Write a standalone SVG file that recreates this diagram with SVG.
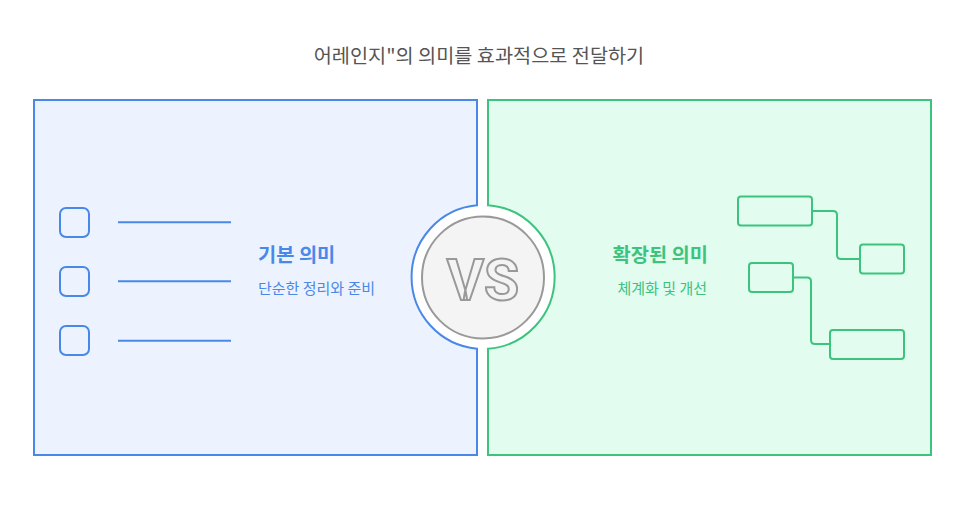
<svg xmlns="http://www.w3.org/2000/svg" width="966" height="512" viewBox="0 0 966 512">
<style>
.title{font-family:"Noto Sans CJK KR","Noto Sans",sans-serif;font-size:19.7px;fill:#555555}
.hb{font-family:"Noto Sans CJK KR",sans-serif;font-size:19.8px;font-weight:bold}
.sb{font-family:"Noto Sans CJK KR",sans-serif;font-size:15px}
.blue{fill:#4a88e8}
.green{fill:#3cc47f}
.bs{fill:none;stroke:#4a88e8;stroke-width:2}
.gs{fill:none;stroke:#3cc47f;stroke-width:2}
</style>
<rect width="966" height="512" fill="#ffffff"/>
<text class="title" x="479" y="63" text-anchor="middle">어레인지"의 의미를 효과적으로 전달하기</text>
<g id="left-panel">
<path d="M34,100 H477 V205.3 A72,72 0 0 0 477,348.7 V455 H34 Z" fill="#ecf3fe" stroke="#4a88e8" stroke-width="2"/>
<text class="hb blue" x="258" y="262">기본 의미</text>
<text class="sb blue" x="258" y="294">단순한 정리와 준비</text>
</g>
<g id="right-panel">
<path d="M488,100 H931 V455 H488 V348.8 A72,72 0 0 0 488,205.2 Z" fill="#e2fcef" stroke="#3cc47f" stroke-width="2"/>
<text class="hb green" x="708" y="262" text-anchor="end">확장된 의미</text>
<text class="sb green" x="707" y="294" text-anchor="end">체계화 및 개선</text>
</g>
<g id="list-icon">
<rect class="bs" x="60" y="208" width="29" height="29" rx="6"/>
<rect class="bs" x="60" y="267" width="29" height="29" rx="6"/>
<rect class="bs" x="60" y="326" width="29" height="29" rx="6"/>
<line class="bs" x1="118" y1="222.3" x2="231" y2="222.3"/>
<line class="bs" x1="118" y1="281.3" x2="231" y2="281.3"/>
<line class="bs" x1="118" y1="340.7" x2="231" y2="340.7"/>
</g>
<g id="tree-icon">
<rect class="gs" x="738" y="196.5" width="74" height="29" rx="3"/>
<rect class="gs" x="860" y="244.5" width="44" height="29" rx="3"/>
<rect class="gs" x="749" y="263" width="44" height="29" rx="3"/>
<rect class="gs" x="830" y="330" width="74" height="29" rx="3"/>
</g>
<g id="connectors">
<path class="gs" d="M812,211 H833 Q837,211 837,215 V255 Q837,259 841,259 H860"/>
<path class="gs" d="M793,277.5 H807 Q811,277.5 811,281.5 V340 Q811,344 815,344 H830"/>
</g>
<g id="vs">
<circle cx="483" cy="277.5" r="61" fill="#f4f4f4" stroke="#999999" stroke-width="2"/>
<text x="483" y="299.5" text-anchor="middle" font-family="Roboto,'Liberation Sans',sans-serif" font-weight="bold" font-size="57" fill="none" stroke="#999999" stroke-width="2">VS</text>
</g>
</svg>
